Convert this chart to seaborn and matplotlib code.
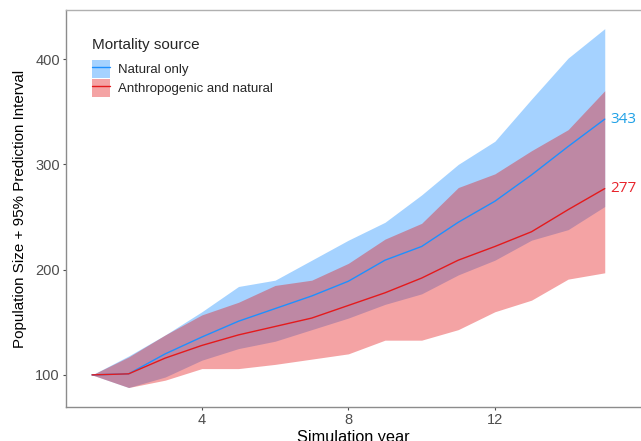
import matplotlib
matplotlib.use("Agg")
import matplotlib.pyplot as plt
from matplotlib.patches import Patch
from matplotlib.lines import Line2D
import numpy as np
import pandas as pd
import seaborn as sns

# 데이터
years = list(range(1, 16))
natural_mean  = [100, 101, 120, 136, 151, 163, 175, 189, 209, 222, 245, 265, 290, 317, 343]
natural_upper = [100, 118, 138, 160, 184, 190, 209, 228, 245, 271, 300, 322, 362, 401, 429]
natural_lower = [100, 88, 98, 114, 125, 132, 143, 154, 167, 177, 195, 209, 228, 238, 260]
anthro_mean   = [100, 101, 116, 128, 138, 146, 154, 166, 178, 192, 209, 222, 236, 257, 277]
anthro_upper  = [100, 117, 138, 157, 169, 185, 190, 206, 229, 244, 278, 291, 313, 333, 370]
anthro_lower  = [100, 88, 95, 106, 106, 110, 115, 120, 133, 133, 143, 160, 171, 191, 197]
groups = ["Natural only", "Anthropogenic and natural"]
colors = {"Natural only": "#1E90FF", "Anthropogenic and natural": "#E41A1C"}
label_colors = ["#1EA0E6", "#E8242C"]

df = pd.DataFrame({
    "year": years * 2,
    "mean": natural_mean + anthro_mean,
    "upper": natural_upper + anthro_upper,
    "lower": natural_lower + anthro_lower,
    "source": [groups[0]] * 15 + [groups[1]] * 15,
})

sns.set_style("white")
plt.rcParams["font.family"] = ["Liberation Sans", "DejaVu Sans"]

fig = plt.figure(figsize=(6.41, 4.41), dpi=100)
ax = fig.add_axes([66 / 641, 34 / 441, 575 / 641, 397 / 441])

# 예측구간 (fill)
for g in groups:
    d = df[df["source"] == g]
    ax.fill_between(d["year"], d["lower"], d["upper"], color=colors[g],
                    alpha=0.4, linewidth=0)

sns.lineplot(data=df, x="year", y="mean", hue="source", palette=colors,
             linewidth=1.0, ax=ax, legend=False)

# 끝값 라벨
for g, c in zip(groups, label_colors):
    d = df[df["source"] == g]
    v = d["mean"].iloc[-1]
    ax.text(d["year"].iloc[-1] + 0.15, v, f"{v}", color=c, fontsize=11,
            va="center", ha="left", family=["Open Sans", "DejaVu Sans"])

ax.set_xlim(0.29, 15.99)
ax.set_ylim(69.5, 446.7)
ax.set_xticks([4, 8, 12])
ax.set_yticks([100, 200, 300, 400])
ax.tick_params(axis="both", colors="#4D4D4D", labelsize=10.5, length=2.5,
               width=0.8, pad=2, direction="out", bottom=True, left=True)
ax.set_xlabel("Simulation year", fontsize=11.7, color="black", labelpad=2)
ax.set_ylabel("Population Size + 95% Prediction Interval", fontsize=10.9,
              color="black", labelpad=6)

for s in ["left", "bottom"]:
    ax.spines[s].set_color("#8C8C8C")
    ax.spines[s].set_linewidth(1.0)
ax.spines["top"].set_color("#B0B0B0")
ax.spines["top"].set_linewidth(1.0)
ax.spines["right"].set_visible(False)

# 범례
handles = [(Patch(facecolor=colors[g], alpha=0.4, linewidth=0),
            Line2D([], [], color=colors[g], linewidth=1.0)) for g in groups]
ax.text(0.046, 0.912, "Mortality source", transform=ax.transAxes,
        fontsize=11, va="center", ha="left")
leg = ax.legend(handles, groups, loc="upper left",
                bbox_to_anchor=(0.046, 0.874), frameon=False, fontsize=9.5,
                handlelength=1.36, handleheight=1.75, labelspacing=0.05,
                handletextpad=0.6, borderpad=0, borderaxespad=0)

fig.savefig("out.png", dpi=100)
